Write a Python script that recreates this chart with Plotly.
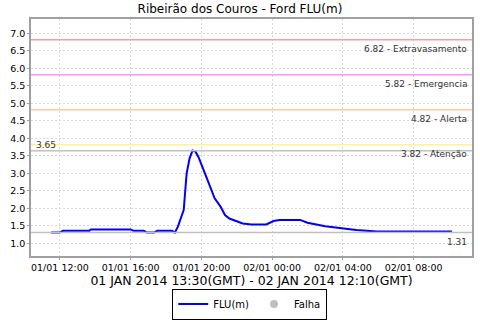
import plotly.graph_objects as go

times = ["2014-01-01 11:30", "2014-01-01 12:00", "2014-01-01 12:10", "2014-01-01 13:40",
         "2014-01-01 13:45", "2014-01-01 16:00", "2014-01-01 16:10", "2014-01-01 16:45",
         "2014-01-01 16:55", "2014-01-01 17:20", "2014-01-01 17:30", "2014-01-01 18:20",
         "2014-01-01 18:30", "2014-01-01 18:40", "2014-01-01 19:00", "2014-01-01 19:10",
         "2014-01-01 19:20", "2014-01-01 19:30", "2014-01-01 19:40", "2014-01-01 19:50",
         "2014-01-01 20:20", "2014-01-01 20:45", "2014-01-01 21:05", "2014-01-01 21:20",
         "2014-01-01 21:35", "2014-01-01 22:00", "2014-01-01 22:20", "2014-01-01 22:50",
         "2014-01-01 23:40", "2014-01-02 00:05", "2014-01-02 00:25", "2014-01-02 01:35",
         "2014-01-02 02:00", "2014-01-02 03:00", "2014-01-02 04:00", "2014-01-02 04:45",
         "2014-01-02 05:55", "2014-01-02 10:10"]
flu = [1.31, 1.31, 1.36, 1.36,
       1.40, 1.40, 1.36, 1.36,
       1.31, 1.31, 1.36, 1.36,
       1.31, 1.47, 1.95, 3.00,
       3.43, 3.65, 3.62, 3.47,
       2.83, 2.29, 2.05, 1.81,
       1.71, 1.62, 1.57, 1.54,
       1.54, 1.64, 1.67, 1.67,
       1.59, 1.49, 1.42, 1.38,
       1.34, 1.34]

threshold_values = [6.82, 5.82, 4.82, 3.82]
threshold_names = ["Extravasamento", "Emergencia", "Alerta", "Atenção"]
threshold_colors = ["#F4A0A0", "#FF90FF", "#FFCC99", "#FFF0A0"]
max_value = 3.65
min_value = 1.31

x_ticks = ["2014-01-01 12:00", "2014-01-01 16:00", "2014-01-01 20:00",
           "2014-01-02 00:00", "2014-01-02 04:00", "2014-01-02 08:00"]
x_tick_labels = ["01/01 12:00", "01/01 16:00", "01/01 20:00",
                 "02/01 00:00", "02/01 04:00", "02/01 08:00"]

FONT = "DejaVu Sans"

fig = go.Figure()
fig.add_trace(go.Scatter(x=times, y=flu, mode="lines", name="FLU(m)",
                         line=dict(color="#0000FF", width=2)))
fig.add_trace(go.Scatter(x=[None], y=[None], mode="markers", name="Falha",
                         marker=dict(color="#C0C0C0", size=8)))

shapes = []
annotations = []
for v, n, c in zip(threshold_values, threshold_names, threshold_colors):
    shapes.append(dict(type="line", xref="paper", x0=0, x1=1, yref="y", y0=v, y1=v,
                       line=dict(color=c, width=1.5)))
    annotations.append(dict(xref="paper", x=0.993, yref="y", y=v, yshift=-2,
                            text=f"{v:.2f} - {n}", showarrow=False,
                            xanchor="right", yanchor="top",
                            font=dict(family=FONT, size=9, color="#333333")))
for v in (max_value, min_value):
    shapes.append(dict(type="line", xref="paper", x0=0, x1=1, yref="y", y0=v, y1=v,
                       line=dict(color="#C0C0C0", width=1.5)))
annotations.append(dict(xref="paper", x=0.007, yref="y", y=max_value, yshift=-1,
                        text=f"{max_value:.2f}", showarrow=False,
                        xanchor="left", yanchor="bottom",
                        font=dict(family=FONT, size=9, color="#333333")))
annotations.append(dict(xref="paper", x=0.993, yref="y", y=min_value, yshift=-2,
                        text=f"{min_value:.2f}", showarrow=False,
                        xanchor="right", yanchor="top",
                        font=dict(family=FONT, size=9, color="#333333")))

fig.update_layout(
    width=480, height=320,
    margin=dict(l=31, r=8, t=19, b=64, autoexpand=False),
    paper_bgcolor="white", plot_bgcolor="white",
    font=dict(family=FONT, color="#000000"),
    title=dict(text="Ribeirão dos Couros - Ford FLU(m)", x=0.5, xanchor="center",
               y=0.973, yanchor="middle", yref="container",
               font=dict(family=FONT, size=12, color="#000000")),
    shapes=shapes, annotations=annotations,
    showlegend=True,
    legend=dict(orientation="h", x=0.496, xanchor="center", y=-0.268, yanchor="bottom",
                bordercolor="#000000", borderwidth=1, bgcolor="white",
                font=dict(family=FONT, size=10, color="#000000"),
                itemwidth=30, tracegroupgap=0),
    xaxis=dict(type="date", range=["2014-01-01 10:22", "2014-01-02 11:18"],
               tickvals=x_ticks, ticktext=x_tick_labels,
               tickfont=dict(family=FONT, size=9.5, color="#000000"),
               showgrid=True, gridcolor="#D8D8D8", griddash="2px,2px", gridwidth=1,
               showline=True, linecolor="#A0A0A0", linewidth=1.5, mirror=True,
               ticks="outside", ticklen=2, tickcolor="#A0A0A0",
               zeroline=False, automargin=False,
               title=dict(text="01 JAN 2014 13:30(GMT) - 02 JAN 2014 12:10(GMT)",
                          font=dict(family=FONT, size=12.5, color="#000000"),
                          standoff=3)),
    yaxis=dict(range=[0.64, 7.41], tickmode="linear", tick0=1.0, dtick=0.5,
               tickformat=".1f", automargin=False,
               tickfont=dict(family=FONT, size=9.5, color="#000000"),
               showgrid=True, gridcolor="#D8D8D8", griddash="2px,2px", gridwidth=1,
               showline=True, linecolor="#A0A0A0", linewidth=1.5, mirror=True,
               ticks="outside", ticklen=2, tickcolor="#A0A0A0",
               zeroline=False),
)

fig.write_html("out.html")
